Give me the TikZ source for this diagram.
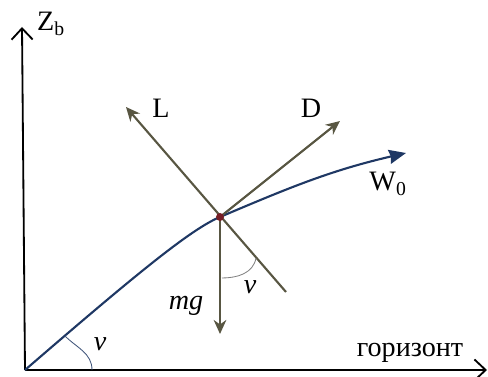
\documentclass[tikz,border=0pt]{standalone}
\usepackage{fontspec}
\setmainfont{Liberation Serif}
\usetikzlibrary{positioning,arrows.meta}
\definecolor{trajblue}{RGB}{31,56,100}
\definecolor{forcegray}{RGB}{88,86,66}
\definecolor{ptred}{RGB}{118,30,38}

\begin{document}
\begin{tikzpicture}[
  x=0.025cm, y=0.025cm,
  axis/.style={-{Straight Barb[length=8pt,width=15pt]}, line width=1.3pt, black},
  force/.style={-{Stealth[length=10pt,width=9pt]}, line width=1.5pt, forcegray},
  traj/.style={-{Stealth[length=12pt,width=10pt,inset=1pt]}, line width=1.5pt, trajblue},
  ang/.style={line width=0.6pt},
  lbl/.style={font=\fontsize{20}{24}\selectfont, inner sep=1pt},
]
  \useasboundingbox (0,0) rectangle (488,376);

  % Points
  \coordinate (O) at (25,6);
  \coordinate (Ztop) at (22,349);
  \coordinate (Xend) at (487,6);
  \coordinate (P) at (220,159);
  \coordinate (c1) at (135,101);
  \coordinate (c2) at (191,147);
  \coordinate (Wend) at (406,223);
  \coordinate (Ltip) at (126,269);
  \coordinate (Ltail) at (286,84);
  \coordinate (Dtip) at (340,255);
  \coordinate (Gtip) at (220,42);
  \coordinate (a1) at (92,6);
  \coordinate (a2) at (65,40);
  \coordinate (b1) at (222,98);
  \coordinate (b2) at (256,118);

  % Axes
  \draw[axis] (O) -- (Ztop);
  \draw[axis] (O) -- (Xend);

  % Trajectory
  \draw[traj] (O) .. controls (c1) and (c2) .. (P) to[out=23, in=193] (Wend);

  % Forces
  \draw[force] (Ltail) -- (Ltip);
  \draw[force] (P) -- (Dtip);
  \draw[force] (P) -- (Gtip);
  \fill[ptred] (P) circle[radius=4];

  % Angles
  \draw[ang, trajblue!85] (a1) to[out=90, in=-45] (a2);
  \draw[ang, gray] (b1) to[out=0, in=-100] (b2);

  % Labels
  \node[lbl] (zlbl) at (51,352) {Z\textsubscript{b}};
  \node[lbl] (hlbl) at (410,23) {горизонт};
  \node[lbl] (llbl) at (161,268) {L};
  \node[lbl] (dlbl) at (311,268) {D};
  \node[lbl] (wlbl) at (388,192) {W\textsubscript{0}};
  \node[lbl] (glbl) at (186,70) {\textit{mg}};
  \node[lbl] (v1lbl) at (100,32) {\textit{v}};
  \node[lbl] (v2lbl) at (250,89) {\textit{v}};
\end{tikzpicture}
\end{document}
